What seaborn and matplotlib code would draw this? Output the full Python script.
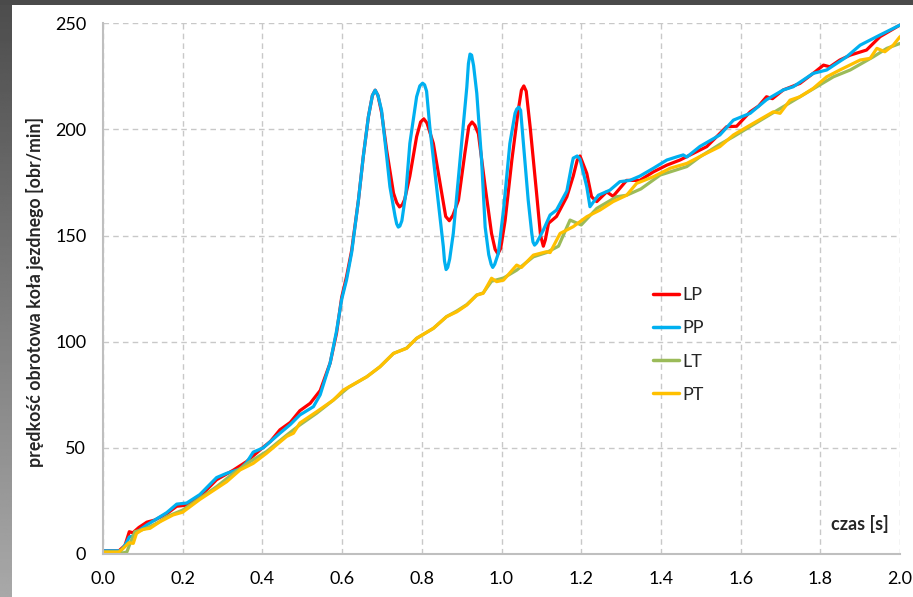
import numpy as np
import pandas as pd
import matplotlib
matplotlib.use("Agg")
import matplotlib.pyplot as plt
import seaborn as sns

# ---- data ----
lp_t = [0, 0.04, 0.055, 0.066, 0.075, 0.09, 0.11, 0.13, 0.16, 0.185, 0.21, 0.243, 0.285, 0.327, 0.36, 0.394,
        0.42, 0.444, 0.47, 0.494, 0.52, 0.545, 0.57, 0.586, 0.599, 0.611, 0.624, 0.641, 0.653, 0.666, 0.676,
        0.683, 0.69, 0.699, 0.712, 0.729, 0.737, 0.744, 0.751, 0.757, 0.77, 0.787, 0.797, 0.805, 0.813,
        0.829, 0.85, 0.86, 0.869, 0.878, 0.892, 0.908, 0.918, 0.926, 0.933, 0.942,
        0.959, 0.975, 0.984, 0.991, 0.998, 1.009, 1.026, 1.042, 1.05, 1.056, 1.062, 1.072, 1.088, 1.098, 1.105,
        1.11, 1.118, 1.138, 1.164, 1.18, 1.19, 1.197,
        1.214, 1.226, 1.239, 1.264, 1.28, 1.314, 1.347, 1.381, 1.415, 1.448, 1.481, 1.515, 1.54, 1.565, 1.59,
        1.624, 1.645, 1.665, 1.68, 1.707, 1.749, 1.782, 1.808, 1.824, 1.849, 1.875, 1.916, 1.95, 2.0]
lp_v = [1.5, 1.5, 4, 10.5, 10, 12.5, 15, 16, 19, 22.5, 23, 27, 35, 39.5, 43.5, 49,
        53, 58.5, 62, 67.5, 71, 77, 90, 104, 121, 130.5, 143, 166.7, 187, 206, 216,
        218.5, 216, 208, 190, 170, 165.5, 163.5, 164.5, 167, 178, 196.6, 203.5, 205, 203,
        193.4, 170, 159, 157, 159.5, 166.7, 188.7, 201.5, 203.5, 202, 198,
        173, 151, 143.5, 141.4, 144, 157, 185.6, 209, 218.5, 220.5, 218, 201, 170, 150, 145,
        148, 155.8, 159, 168.3, 178, 185.5, 187.5,
        179.3, 168.3, 166, 170.6, 168.5, 176, 176, 180, 183.2, 185.6, 188.7, 191.9, 196.6, 201.3, 201.5,
        208.3, 211, 215.4, 214.5, 218.6, 221.7, 226.4, 230.3, 229.5, 232.7, 235, 237.4, 243.7, 249.2]

pp_t = [0, 0.045, 0.058, 0.066, 0.075, 0.09, 0.11, 0.13, 0.16, 0.185, 0.21, 0.243, 0.285, 0.31, 0.344, 0.36,
        0.377, 0.402, 0.444, 0.47, 0.494, 0.528, 0.545, 0.57, 0.586, 0.599, 0.611, 0.624, 0.641, 0.653, 0.666,
        0.676, 0.683, 0.69, 0.699, 0.712, 0.72, 0.733, 0.737, 0.741, 0.745, 0.75, 0.76, 0.77, 0.787, 0.795,
        0.802, 0.807, 0.812, 0.82, 0.837, 0.854, 0.857, 0.861, 0.865, 0.87, 0.879, 0.896, 0.913, 0.917, 0.921,
        0.925, 0.93, 0.938, 0.95, 0.959, 0.968, 0.974, 0.978, 0.983, 0.992, 1.005, 1.021, 1.034, 1.038, 1.043,
        1.048, 1.055, 1.067, 1.076, 1.079, 1.083, 1.088, 1.105, 1.122, 1.138, 1.164, 1.176, 1.18, 1.19, 1.197,
        1.214, 1.222, 1.243,
        1.272, 1.297, 1.322, 1.347, 1.381, 1.415, 1.44, 1.456, 1.465, 1.498, 1.548, 1.582, 1.624, 1.665, 1.707,
        1.732, 1.782, 1.816, 1.866, 1.9, 1.95, 2.0]
pp_v = [1.5, 1.5, 5, 8, 8.5, 11, 13.7, 16, 19.5, 23.5, 24, 28, 36, 38, 40, 43,
        48, 50, 56.9, 61, 65.5, 69.4, 75, 90, 105, 120, 129, 142, 166.7, 187, 206,
        216, 218.5, 216, 209, 187, 173, 159, 155.5, 154, 154.5, 157, 170, 193.4, 215.4, 220.5,
        221.8, 221, 218, 201.3, 173, 144.8, 138, 134, 135, 139, 151, 185.6, 220, 231, 235.5,
        235, 230, 217, 185.6, 154, 141, 136.5, 135, 136.5, 141.6, 162, 193.4, 207.6, 209.5, 210.5,
        209, 193.4, 166.7, 151, 147, 145.5, 146.5, 152.6, 159.7, 162, 171, 183, 186.5, 187.5, 186,
        173, 163.6, 169,
        171.4, 175.4, 176, 178, 181.7, 185.6, 187.1, 188, 187, 192, 197.4, 204.4, 207.6, 214, 218.6,
        220.1, 226.4, 228, 234.2, 239.7, 244.5, 249.2]

lt_t = [0, 0.05, 0.06, 0.068, 0.08, 0.1, 0.118, 0.14, 0.16, 0.2, 0.243, 0.285, 0.327, 0.369, 0.41, 0.461,
        0.494, 0.536, 0.578, 0.616, 0.662, 0.695, 0.729, 0.762, 0.787, 0.829, 0.862, 0.888, 0.913, 0.938,
        0.954, 0.975, 1.005, 1.038, 1.08, 1.113, 1.143, 1.172, 1.2, 1.239, 1.289, 1.314, 1.35, 1.398, 1.465,
        1.498, 1.548, 1.582, 1.665, 1.749, 1.833, 1.875, 1.933, 1.967, 2.0]
lt_v = [0.5, 0.5, 1, 5, 10.5, 11.5, 12.9, 15, 17.6, 20.7, 26.2, 31.7, 38, 43.5, 48.2, 56,
        60.8, 66.3, 72.5, 78.5, 83.5, 88.2, 94.5, 97, 101.6, 106.3, 111.8, 114.5, 117.5, 122,
        123, 128.5, 130, 133.7, 140, 142, 145, 157.3, 155, 162.8, 168.3, 169, 172, 178.5, 182.5,
        187.1, 193, 196.6, 206, 215.4, 224.8, 228, 234.2, 238.2, 240.5]

pt_t = [0, 0.04, 0.051, 0.065, 0.076, 0.084, 0.1, 0.118, 0.143, 0.176, 0.2, 0.243, 0.285, 0.31, 0.344,
        0.377, 0.41, 0.461, 0.478, 0.494, 0.536, 0.578, 0.603, 0.662, 0.695, 0.729, 0.762, 0.787, 0.829,
        0.862, 0.888, 0.913, 0.938, 0.954, 0.975, 0.988, 1.005, 1.038, 1.05, 1.08, 1.113, 1.122, 1.147,
        1.18, 1.214, 1.247, 1.28, 1.314, 1.339, 1.381, 1.423, 1.465, 1.506, 1.548, 1.582, 1.632, 1.682,
        1.699, 1.724, 1.749, 1.782, 1.816, 1.849, 1.9, 1.925, 1.942, 1.962, 1.983, 2.0]
pt_v = [1, 1, 2.7, 5.3, 5, 9.7, 11.6, 12.1, 15.2, 18.4, 19.7, 25.7, 30.9, 34, 39.6,
        42.7, 47.4, 55.4, 56.9, 61.7, 67, 72.5, 77.2, 83.5, 88.2, 94.5, 96.9, 101.6, 106.3,
        111.8, 114.1, 117.3, 122, 122.8, 129.9, 128.3, 129, 136.1, 135, 140.8, 142.4, 142, 151,
        154.2, 158.9, 162, 166, 169, 174.6, 177.7, 181.7, 184, 188, 191.9, 197.4, 202.9, 208.3,
        207.6, 213.8, 215.4, 219.3, 224.8, 228, 232.7, 233.5, 238.2, 236.6, 239.7, 243.7]

series_names = ["LP", "PP", "LT", "PT"]
colors = ["#FF0000", "#00B0F0", "#9BBB59", "#FFC000"]
x_ticks = [0.0, 0.2, 0.4, 0.6, 0.8, 1.0, 1.2, 1.4, 1.6, 1.8, 2.0]
y_ticks = [0, 50, 100, 150, 200, 250]

frames = []
for name, t, v in zip(series_names, [lp_t, pp_t, lt_t, pt_t], [lp_v, pp_v, lt_v, pt_v]):
    frames.append(pd.DataFrame({"t": t, "v": v, "s": name}))
df = pd.concat(frames, ignore_index=True)

sns.set_style("white")
plt.rcParams["font.family"] = ["Lato", "DejaVu Sans"]

W, H = 913, 597
fig = plt.figure(figsize=(W / 100, H / 100), dpi=100)
fig.patch.set_facecolor("white")

# dark frame at top and left (gradient)
bg = fig.add_axes([0, 0, 1, 1], zorder=-10)
bg.set_axis_off()
bg.set_xlim(0, W)
bg.set_ylim(H, 0)
grad = np.linspace(0.30, 0.66, 256).reshape(-1, 1)
bg.imshow(grad, cmap="gray", vmin=0, vmax=1, extent=[0, 12, H, 0], aspect="auto")
bg.add_patch(plt.Rectangle((0, 0), W, 5, color="#4a4a4a", lw=0))
bg.add_patch(plt.Rectangle((12, 5), W - 12, H - 5, color="white", lw=0))

x0, x1 = 103, 900
y0, y1 = 554, 23.3
ax = fig.add_axes([x0 / W, 1 - y0 / H, (x1 - x0) / W, (y0 - y1) / H])
ax.set_facecolor("none")

sns.lineplot(data=df, x="t", y="v", hue="s", hue_order=series_names, palette=colors,
             sort=False, estimator=None, linewidth=2.3, ax=ax, legend=True)
for ln in ax.get_lines():
    ln.set_solid_joinstyle("round")
    ln.set_solid_capstyle("round")

ax.set_xlim(0, 2.0)
ax.set_ylim(0, 250)
ax.set_xticks(x_ticks)
ax.set_xticklabels([f"{v:.1f}" for v in x_ticks])
ax.set_yticks(y_ticks)
ax.set_yticklabels([str(v) for v in y_ticks])
ax.grid(True, color="#c8c8c8", linestyle=(0, (4, 3)), linewidth=1.0)
ax.set_axisbelow(True)
for s in ["top", "right"]:
    ax.spines[s].set_visible(False)
for s in ["left", "bottom"]:
    ax.spines[s].set_color("#bfbfbf")
    ax.spines[s].set_linewidth(1.5)
ax.tick_params(axis="both", which="both", direction="out", length=5, width=1,
               color="#bfbfbf", labelsize=13, labelcolor="black", pad=7)
ax.set_xlabel("")
ax.set_ylabel("")

ax.text(0.95, 0.056, "czas [s]", transform=ax.transAxes, ha="center", va="center",
        fontsize=13, fontweight="bold")
fig.text(35 / W, 1 - 292 / H, "prędkość obrotowa koła jezdnego [obr/min]", rotation=90,
         ha="center", va="center", fontsize=12.8, fontweight="bold")

leg = ax.legend(loc="upper left", bbox_to_anchor=((646 - x0) / (x1 - x0), (y0 - 280) / (y0 - y1)),
                frameon=False, fontsize=13, handlelength=1.45, handletextpad=0.15,
                labelspacing=0.95, borderaxespad=0)
for h in leg.get_lines():
    h.set_linewidth(2.5)

fig.savefig("out.png", dpi=100)
